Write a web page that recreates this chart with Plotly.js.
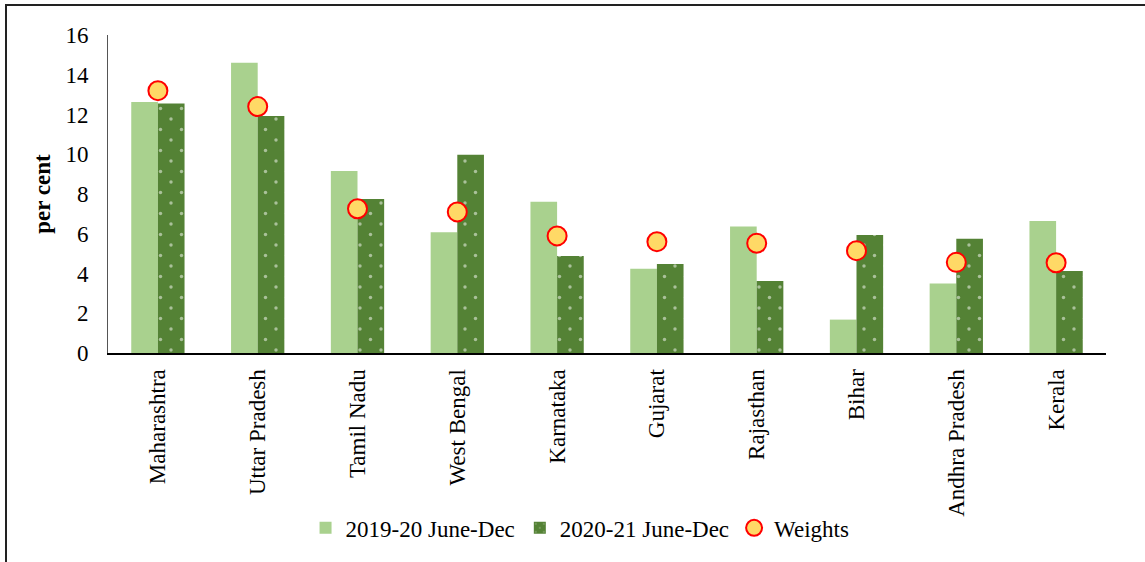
<!DOCTYPE html>
<html>
<head>
<meta charset="utf-8">
<script src="https://cdn.plot.ly/plotly-3.0.1.min.js"></script>
<style>
html,body{margin:0;padding:0;background:#fff;}
#wrap{position:absolute;left:0;top:0;width:1145px;height:562px;}
#frame{position:absolute;left:5px;top:4px;width:1140px;height:558px;border-top:2px solid #222;border-left:2px solid #222;pointer-events:none;}
#chart{position:absolute;left:0;top:0;width:1145px;height:562px;}
</style>
</head>
<body>
<div id="wrap"><div id="chart"></div><div id="frame"></div></div>
<script>
const states = ["Maharashtra","Uttar Pradesh","Tamil Nadu","West Bengal","Karnataka","Gujarat","Rajasthan","Bihar","Andhra Pradesh","Kerala"];
const share2019 = [12.63, 14.6, 9.16, 6.07, 7.61, 4.24, 6.36, 1.68, 3.5, 6.64];
const share2020 = [12.55, 11.93, 7.75, 9.98, 4.88, 4.48, 3.62, 5.94, 5.75, 4.13];
const weights = [13.2, 12.4, 7.26, 7.1, 5.89, 5.6, 5.52, 5.15, 4.56, 4.54];
const yTicks = [0, 2, 4, 6, 8, 10, 12, 14, 16];

const font = "Liberation Serif, Times New Roman, serif";

const traces = [
  {type:"bar", name:"2019-20 June-Dec", x:states, y:share2019,
   marker:{color:"#A9D18E", line:{width:0}}},
  {type:"bar", name:"2020-21 June-Dec", x:states, y:share2020,
   marker:{color:"#548235", line:{width:0},
     pattern:{shape:".", fgcolor:"#ffffff", bgcolor:"#548235", size:21, solidity:0.021, fillmode:"overlay"}}},
  {type:"scatter", mode:"markers", name:"Weights", x:states, y:weights,
   marker:{size:19, color:"#FFD966", line:{color:"#FF0000", width:2}}}
];

const layout = {
  width:1145, height:562,
  margin:{l:108, r:39, t:35, b:209},
  paper_bgcolor:"#ffffff", plot_bgcolor:"#ffffff",
  font:{family:font, size:23, color:"#000"},
  barmode:"group", bargap:0.466, bargroupgap:0,
  showlegend:true,
  legend:{orientation:"h", x:0.473, xanchor:"center", y:-0.55, yanchor:"middle",
          font:{family:font, size:23, color:"#000"}, itemwidth:30, tracegroupgap:0},
  xaxis:{type:"category", range:[-0.5, 9.5], tickangle:-90, showline:true, linecolor:"#000", linewidth:2,
         ticks:"", showgrid:false, zeroline:false, tickfont:{family:font, size:23},
         ticklabelstandoff:5},
  yaxis:{range:[0,16], tickvals:yTicks, ticktext:yTicks.map(String), showline:true,
         linecolor:"#555", linewidth:1, ticks:"", showgrid:false, zeroline:false,
         tickfont:{family:font, size:23}, ticklabelstandoff:14,
         title:{text:"<b>per cent</b>", font:{family:font, size:23}, standoff:8}}
};

Plotly.newPlot("chart", traces, layout, {displayModeBar:false, staticPlot:true}).then(function(){
  // stagger the dot texture: add corner dots to each pattern tile
  document.querySelectorAll("#chart pattern").forEach(function(p){
    const c = p.querySelector("circle");
    if(!c) return;
    const w = parseFloat(p.getAttribute("width"));
    const h = parseFloat(p.getAttribute("height"));
    [[0,0],[w,0],[0,h],[w,h]].forEach(function(pt){
      const n = c.cloneNode();
      n.setAttribute("cx", pt[0]);
      n.setAttribute("cy", pt[1]);
      p.appendChild(n);
    });
  });
});
</script>
</body>
</html>
